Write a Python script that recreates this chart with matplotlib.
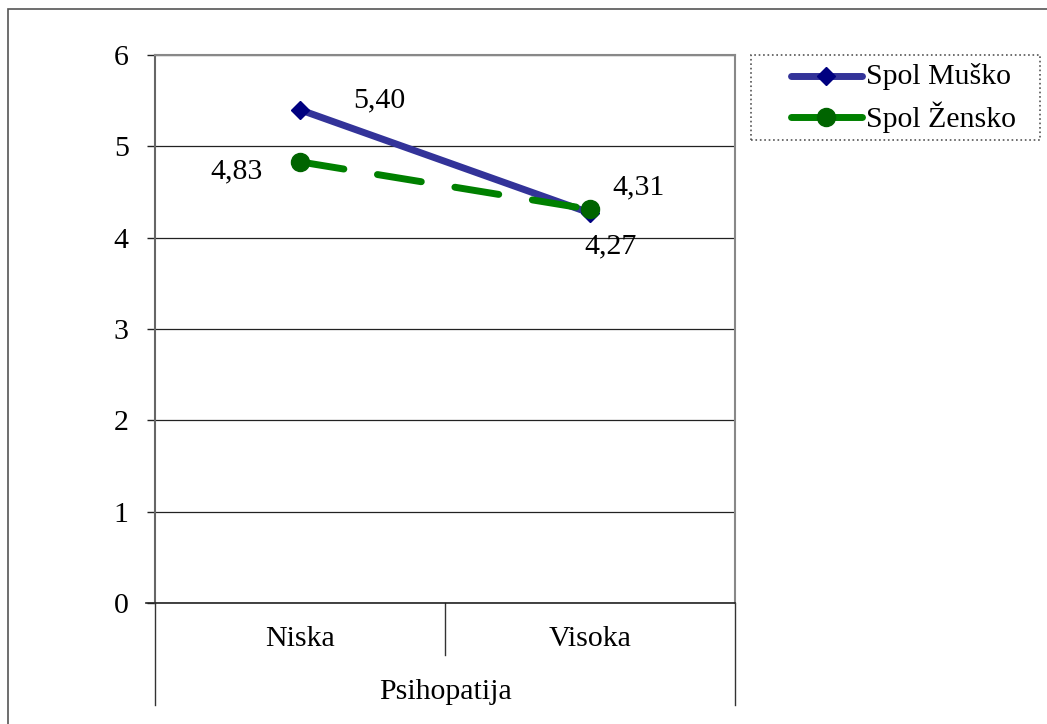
import matplotlib
matplotlib.use("Agg")
import matplotlib.pyplot as plt
from matplotlib.lines import Line2D
from matplotlib.patches import Rectangle

categories = ["Niska", "Visoka"]
group_label = "Psihopatija"
series_names = ["Spol Muško", "Spol Žensko"]
musko = [5.40, 4.27]
zensko = [4.83, 4.31]
yticks = [0, 1, 2, 3, 4, 5, 6]

plt.rcParams['font.family'] = ['Liberation Serif', 'DejaVu Serif']
FS = 21.5
W, H = 1047, 724

fig = plt.figure(figsize=(10.47, 7.24), dpi=100)
fig.patch.set_facecolor('white')
# outer border (only top/left visible)
fig.add_artist(Rectangle((8/W, -0.05), 1.1, 1.05 - 9/H, transform=fig.transFigure,
                         fill=False, edgecolor='#555555', linewidth=1.2))

ax = fig.add_axes([155/W, 1 - 603/H, (735-155)/W, (603-55)/H])
x = list(range(len(categories)))
ax.set_xlim(-0.5, len(categories) - 0.5)
ax.set_ylim(0, 6)
ax.set_yticks(yticks)
ax.set_yticklabels([str(t) for t in yticks], fontsize=FS)
ax.yaxis.grid(True, color='#222222', linewidth=0.9)
ax.set_axisbelow(True)
ax.tick_params(axis='y', direction='out', length=6, width=1, color='#222222', pad=13)
ax.set_xticks([])
for s in ['top', 'right']:
    ax.spines[s].set_color('#888888')
    ax.spines[s].set_linewidth(1.5)
ax.spines['left'].set_color('#666666')
ax.spines['left'].set_linewidth(1.5)
ax.spines['bottom'].set_color('#222222')
ax.spines['bottom'].set_linewidth(1.2)

LW = 5
ax.plot(x, musko, color='#333399', linewidth=LW, marker='D', markersize=9,
        markerfacecolor='#000080', markeredgecolor='#000080', solid_capstyle='round',
        label=series_names[0], zorder=3)
ax.plot(x, zensko, color='#008000', linewidth=LW, linestyle=(0, (6.4, 4.9)), marker='o', markersize=13,
        markerfacecolor='#006400', markeredgecolor='#006400', dash_capstyle='round',
        label=series_names[1], zorder=4)

def fmt(v):
    return f"{v:.2f}".replace('.', ',')

ax.annotate(fmt(musko[0]), (x[0], musko[0]), xytext=(57, 7), textcoords='offset points',
            fontsize=FS, ha='center', va='center')
ax.annotate(fmt(zensko[0]), (x[0], zensko[0]), xytext=(-46, -7), textcoords='offset points',
            fontsize=FS, ha='center', va='center')
ax.annotate(fmt(zensko[1]), (x[1], zensko[1]), xytext=(35, 16), textcoords='offset points',
            fontsize=FS, ha='center', va='center')
ax.annotate(fmt(musko[1]), (x[1], musko[1]), xytext=(15, -24), textcoords='offset points',
            fontsize=FS, ha='center', va='center')

# category axis lines below plot
trans = ax.get_xaxis_transform()
ax_h_px = 603 - 55
def yfrac(px_below):
    return -px_below / ax_h_px
ax.plot([-0.5, -0.5], [0, yfrac(102)], transform=trans, color='#333333', lw=1, clip_on=False)
ax.plot([1.5, 1.5], [0, yfrac(102)], transform=trans, color='#333333', lw=1, clip_on=False)
for i in range(1, len(categories)):
    ax.plot([i - 0.5, i - 0.5], [0, yfrac(52)], transform=trans, color='#333333', lw=1, clip_on=False)
ax.plot([-0.53, -0.5], [0, 0], transform=trans, color='#222222', lw=1.2, clip_on=False)
for i, c in enumerate(categories):
    ax.text(i, yfrac(36), c, transform=trans, fontsize=FS, ha='center', va='center')
ax.text((len(categories) - 1) / 2, yfrac(89), group_label, transform=trans, fontsize=FS,
        ha='center', va='center')

# legend drawn in figure pixel coords
def fx(px): return px / W
def fy(py): return 1 - py / H
fig.add_artist(Rectangle((fx(751), fy(140)), fx(1040) - fx(751), fy(55) - fy(140),
                         transform=fig.transFigure, fill=False, edgecolor='#555555',
                         linestyle=':', linewidth=1.2))
leg_specs = [
    dict(color='#333399', marker='D', markersize=9, mfc='#000080'),
    dict(color='#008000', marker='o', markersize=13, mfc='#006400'),
]
for k, (name, spec) in enumerate(zip(series_names, leg_specs)):
    yy = fy(76 + k * 41)
    fig.add_artist(Line2D([fx(791), fx(862)], [yy, yy], transform=fig.transFigure,
                          color=spec['color'], lw=LW, solid_capstyle='round'))
    fig.add_artist(Line2D([fx(826)], [yy], transform=fig.transFigure, marker=spec['marker'],
                          markersize=spec['markersize'], markerfacecolor=spec['mfc'],
                          markeredgecolor=spec['mfc'], lw=0))
    fig.text(fx(866), yy, name, fontsize=FS, ha='left', va='center')

fig.savefig('out.png', dpi=100, facecolor='white')
